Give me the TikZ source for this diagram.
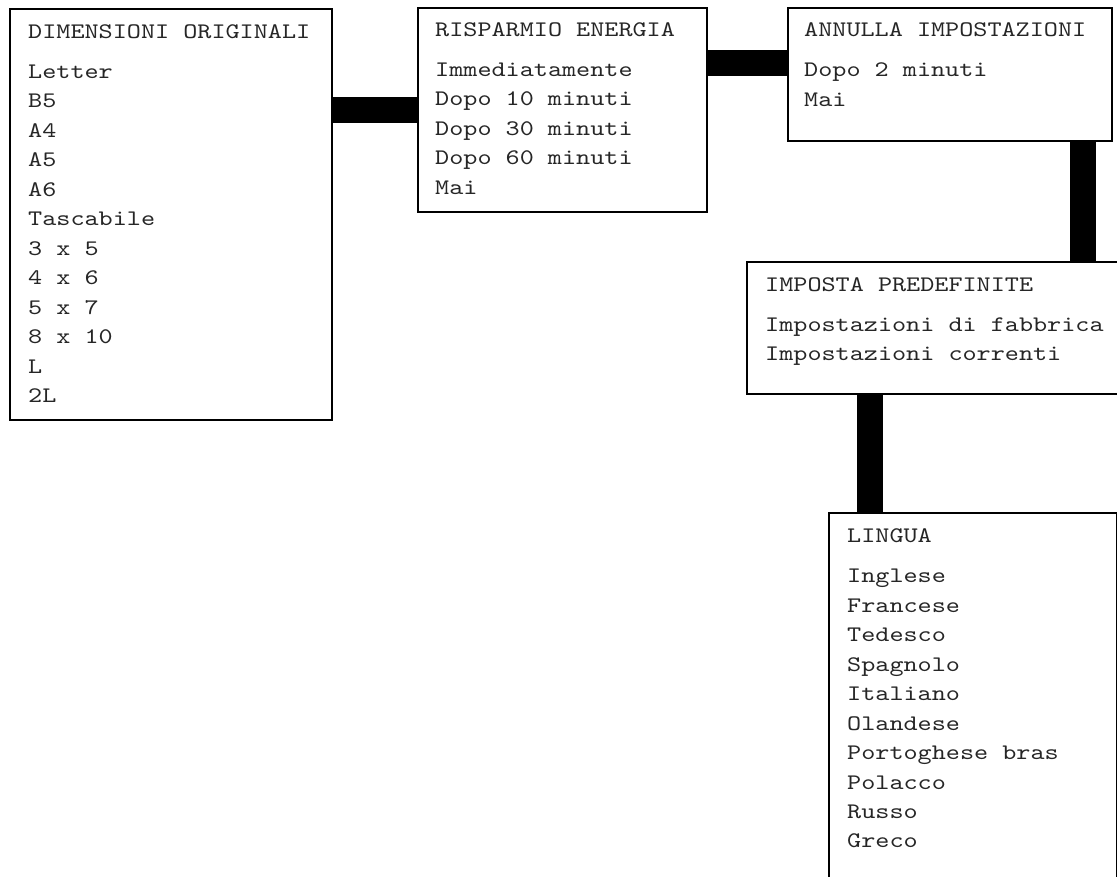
\documentclass[tikz,border=0pt]{standalone}
\usepackage{fontspec}
\newfontfamily\cour[FakeStretch=1.21]{lmmono10-regular.otf}
\begin{document}
\begin{tikzpicture}[x=1pt,y=-1pt,
  frame/.style={draw=black,line width=2pt,fill=none,rectangle,inner sep=0pt,anchor=north west},
  txt/.style={anchor=base west,inner sep=0pt,font=\cour\fontsize{22.2}{29.5}\selectfont,text=black!85},
  bar/.style={line width=26pt,draw=black,line cap=butt}]
\useasboundingbox (0,0) rectangle (1117,877);
\clip (0,0) rectangle (1117,877);
% frames
\node[frame,minimum width=322pt,minimum height=410.5pt] (b1) at (9,8.5) {};
\node[frame,minimum width=288.5pt,minimum height=204pt] (b2) at (417,7.5) {};
\node[frame,minimum width=324pt,minimum height=133pt] (b3) at (787,7.5) {};
\node[frame,minimum width=400pt,minimum height=132.5pt] (b4) at (746,261) {};
\node[frame,minimum width=288pt,minimum height=420pt] (b5) at (828,512) {};
% texts
\node[txt] (t1) at ([xshift=19pt,yshift=-30pt]b1.north west) {\begin{tabular}[t]{@{}l@{}}DIMENSIONI ORIGINALI\\[10.5pt]Letter\\B5\\A4\\A5\\A6\\Tascabile\\3 x 5\\4 x 6\\5 x 7\\8 x 10\\L\\2L\end{tabular}};
\node[txt] (t2) at ([xshift=18pt,yshift=-29pt]b2.north west) {\begin{tabular}[t]{@{}l@{}}RISPARMIO ENERGIA\\[10.5pt]Immediatamente\\Dopo 10 minuti\\Dopo 30 minuti\\Dopo 60 minuti\\Mai\end{tabular}};
\node[txt] (t3) at ([xshift=17pt,yshift=-29.5pt]b3.north west) {\begin{tabular}[t]{@{}l@{}}ANNULLA IMPOSTAZIONI\\[10.5pt]Dopo 2 minuti\\Mai\end{tabular}};
\node[txt] (t4) at ([xshift=19pt,yshift=-30.5pt]b4.north west) {\begin{tabular}[t]{@{}l@{}}IMPOSTA PREDEFINITE\\[10.5pt]Impostazioni di fabbrica\\Impostazioni correnti\end{tabular}};
\node[txt] (t5) at ([xshift=19pt,yshift=-30.5pt]b5.north west) {\begin{tabular}[t]{@{}l@{}}LINGUA\\[10.5pt]Inglese\\Francese\\Tedesco\\Spagnolo\\Italiano\\Olandese\\Portoghese bras\\Polacco\\Russo\\Greco\end{tabular}};
% connectors
\draw[bar] (b1.east |- b2.west) -- (b2.west);
\coordinate (c23) at ([yshift=12pt]b3.west);
\draw[bar] (b2.east |- c23) -- (c23);
\coordinate (c34) at ([xshift=132.5pt]b3.south);
\draw[bar] (c34) -- (c34 |- b4.north);
\coordinate (c45) at ([xshift=-103.5pt]b5.north);
\draw[bar] (c45 |- b4.south) -- (c45);
\end{tikzpicture}
\end{document}
